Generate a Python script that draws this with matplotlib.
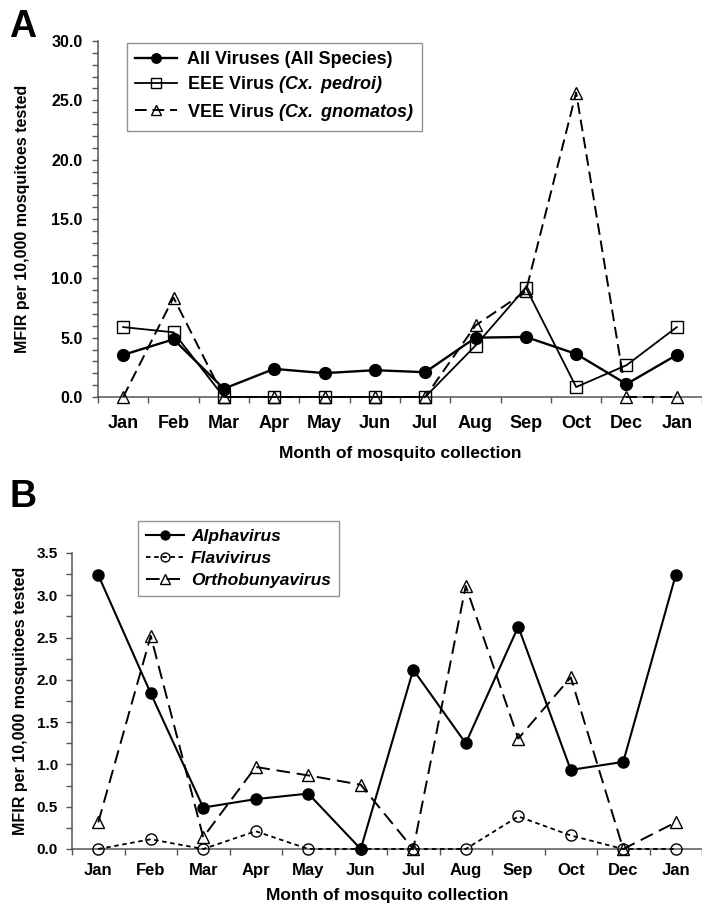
import numpy as np
import matplotlib
matplotlib.use('Agg')
import matplotlib.pyplot as plt
from matplotlib import font_manager
from matplotlib.ticker import MultipleLocator, FixedLocator, FormatStrFormatter

# fonts: Arial-like bold for panel A, narrow version for panel B if present
names = {f.name for f in font_manager.fontManager.ttflist}
NARROW = 'Liberation Sans Narrow' if 'Liberation Sans Narrow' in names else 'Liberation Sans'
plt.rcParams['font.family'] = ['Liberation Sans', 'DejaVu Sans']
# mathtext only used for the bold-italic species names in the legend
plt.rcParams['mathtext.fontset'] = 'custom'
plt.rcParams['mathtext.rm'] = 'Liberation Sans:italic:bold'
plt.rcParams['mathtext.it'] = 'Liberation Sans:italic:bold'

# ── data ──
months = ['Jan', 'Feb', 'Mar', 'Apr', 'May', 'Jun', 'Jul', 'Aug', 'Sep', 'Oct', 'Dec', 'Jan']

# panel A: MFIR per 10,000
all_viruses = [3.55, 4.86, 0.70, 2.37, 2.01, 2.26, 2.09, 5.00, 5.06, 3.63, 1.09, 3.55]
eee_pedroi = [5.89, 5.45, 0.0, 0.0, 0.0, 0.0, 0.0, 4.33, 9.22, 0.84, 2.68, 5.89]
vee_gnomatos = [0.0, 8.38, 0.0, 0.0, 0.0, 0.0, 0.0, 6.03, 8.9, 25.65, 0.0, 0.0]

# panel B
alphavirus = [3.24, 1.84, 0.49, 0.59, 0.655, 0.0, 2.12, 1.25, 2.63, 0.935, 1.03, 3.24]
flavivirus = [0.0, 0.115, 0.0, 0.21, 0.0, 0.0, 0.0, 0.0, 0.385, 0.16, 0.0, 0.0]
orthobunyavirus = [0.315, 2.52, 0.14, 0.97, 0.87, 0.76, 0.0, 3.11, 1.305, 2.03, 0.0, 0.315]

W, H = 702, 908
AXIS_COLOR = '#555555'


def px_box(left, top, right, bottom):
    # pixel box -> figure fraction
    return [left / W, 1 - bottom / H, (right - left) / W, (bottom - top) / H]


def style_axis(ax, ymax, major, minor, family, fs_x, fs_y, padx, pady):
    n = len(months)
    x = np.arange(n)
    ax.set_xlim(-0.5, n - 0.5)
    ax.set_ylim(0, ymax)
    for s in ['top', 'right']:
        ax.spines[s].set_visible(False)
    for s in ['left', 'bottom']:
        ax.spines[s].set_color(AXIS_COLOR)
        ax.spines[s].set_linewidth(1.1)
    ax.set_xticks(x)
    ax.set_xticklabels(months, fontsize=fs_x, fontweight='bold', family=family)
    ax.xaxis.set_minor_locator(FixedLocator(np.arange(-0.5, n, 1.0)))
    ax.tick_params(axis='x', which='major', length=0, pad=padx)
    ax.tick_params(axis='x', which='minor', length=4, width=1, direction='out', color=AXIS_COLOR)
    ax.yaxis.set_major_locator(MultipleLocator(major))
    ax.yaxis.set_minor_locator(MultipleLocator(minor))
    ax.yaxis.set_major_formatter(FormatStrFormatter('%.1f'))
    ax.tick_params(axis='y', which='both', length=4, width=1, direction='out',
                   color=AXIS_COLOR, pad=pady)
    for lab in ax.get_yticklabels():
        lab.set_fontsize(fs_y)
        lab.set_fontweight('bold')
        lab.set_family(family)


fig = plt.figure(figsize=(W / 100, H / 100), dpi=100)

# ── panel A ──
axA = fig.add_axes(px_box(98, 41, 702, 397))
xA = np.arange(len(months))
axA.plot(xA, eee_pedroi, color='black', lw=1.3, marker='s', ms=8.5,
         mfc='none', mec='black', mew=1.0, clip_on=False, zorder=3,
         label=r'EEE Virus $(Cx.$ $pedroi)$')
axA.plot(xA, vee_gnomatos, color='black', lw=1.4, ls=(0, (6, 3)), marker='^', ms=9,
         mfc='none', mec='black', mew=1.0, clip_on=False, zorder=3,
         label=r'VEE Virus $(Cx.$ $gnomatos)$')
axA.plot(xA, all_viruses, color='black', lw=1.7, marker='o', ms=8.5,
         mfc='black', mec='black', clip_on=False, zorder=4,
         label='All Viruses (All Species)')
style_axis(axA, 30, 5, 1, 'Liberation Sans', 13, 11.5, 13, 7)
axA.set_xlabel('Month of mosquito collection', fontsize=12.5, fontweight='bold', labelpad=10)
axA.set_ylabel('MFIR per 10,000 mosquitoes tested', fontsize=11.5, fontweight='bold')
axA.yaxis.set_label_coords(-0.112, 0.5)

hA, lA = axA.get_legend_handles_labels()
order = [2, 0, 1]
legA = axA.legend([hA[i] for i in order], [lA[i] for i in order],
                  loc='upper left', bbox_to_anchor=(127 / W, 1 - 43 / H),
                  bbox_transform=fig.transFigure,
                  prop={'family': 'Liberation Sans', 'weight': 'bold', 'size': 13},
                  handlelength=2.3, handletextpad=0.6, labelspacing=0.35,
                  borderpad=0.45, borderaxespad=0, markerscale=0.8,
                  frameon=True, fancybox=False)
legA.get_frame().set_edgecolor('#777777')
legA.get_frame().set_linewidth(1.0)

# ── panel B ──
axB = fig.add_axes(px_box(72, 553, 702, 849))
xB = np.arange(len(months))
axB.plot(xB, alphavirus, color='black', lw=1.5, marker='o', ms=8,
         mfc='black', mec='black', clip_on=False, zorder=4, label='Alphavirus')
axB.plot(xB, flavivirus, color='black', lw=1.3, ls=(0, (2.5, 2)), marker='o', ms=8,
         mfc='none', mec='black', mew=1.0, clip_on=False, zorder=3, label='Flavivirus')
axB.plot(xB, orthobunyavirus, color='black', lw=1.4, ls=(0, (7, 3.5)), marker='^', ms=8.5,
         mfc='none', mec='black', mew=1.0, clip_on=False, zorder=3, label='Orthobunyavirus')
style_axis(axB, 3.5, 0.5, 0.25, NARROW, 12, 11, 10, 6)
axB.set_xlabel('Month of mosquito collection', fontsize=12.5, fontweight='bold',
               family=NARROW, labelpad=7)
axB.set_ylabel('MFIR per 10,000 mosquitoes tested', fontsize=11.5, fontweight='bold',
               family=NARROW)
axB.yaxis.set_label_coords(-0.07, 0.5)

legB = axB.legend(loc='upper left', bbox_to_anchor=(138 / W, 1 - 521 / H),
                  bbox_transform=fig.transFigure,
                  prop={'family': NARROW, 'weight': 'bold', 'style': 'italic', 'size': 12.5},
                  handlelength=2.2, handletextpad=0.4, labelspacing=0.4,
                  borderpad=0.45, borderaxespad=0, markerscale=0.8,
                  frameon=True, fancybox=False)
legB.get_frame().set_edgecolor('#777777')
legB.get_frame().set_linewidth(1.0)

# panel letters
fig.text(9 / W, 1 - 37 / H, 'A', fontsize=27, fontweight='bold', va='baseline', ha='left')
fig.text(9 / W, 1 - 507 / H, 'B', fontsize=27, fontweight='bold', va='baseline', ha='left')

fig.savefig('out.png', dpi=100)
